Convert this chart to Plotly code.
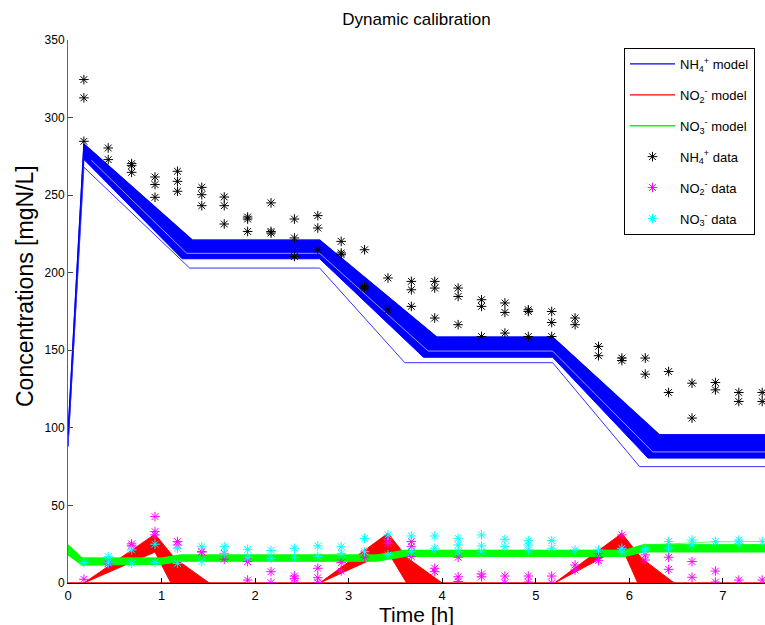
import plotly.graph_objects as go

# ---------------- data ----------------
sample_t = [0.17, 0.43, 0.68, 0.93, 1.17, 1.43, 1.67, 1.92, 2.17, 2.42, 2.67, 2.92,
            3.17, 3.42, 3.67, 3.92, 4.17, 4.42, 4.67, 4.92, 5.17, 5.42, 5.67, 5.92,
            6.17, 6.42, 6.67, 6.92, 7.17, 7.42]

nh4_rep1 = [324.5, 280.4, 270.3, 261.7, 265.4, 255.0, 248.8, 235.9, 245.0, 234.6, 236.8, 220.2,
            214.8, 196.6, 194.4, 194.4, 190.1, 182.6, 180.5, 176.1, 175.0, 170.8, 152.5, 145.0,
            145.0, 136.3, 128.8, 129.2, 122.8, 122.8]
nh4_rep2 = [312.7, 272.9, 269.0, 256.8, 258.9, 250.3, 243.2, 234.6, 226.6, 222.4, 228.8, 212.7,
            191.2, 176.1, 189.0, 190.1, 184.7, 178.3, 174.4, 175.0, 167.9, 166.5, 146.5, 143.4,
            134.6, 122.8, 106.3, 124.5, 117.0, 117.0]
nh4_rep3 = [284.7, None, 264.7, 248.6, 252.5, 243.2, 231.4, 226.6, 225.6, 210.5, 214.8, 211.6,
            190.1, None, 178.3, 170.8, 166.5, 158.9, 161.1, 158.9, 158.9, None, None, None,
            None, None, None, None, None, None]

no2_data = [[2.4], [12.3, 13.0], [25.2, 24.0], [42.8, 33.1, 31.0], [26.7, 24.5], [20.2, 20.0],
            [19.1, 15.3], [13.8, 1.9], [7.3, 0.2], [4.5, 3.0, 0.0], [9.5, 3.4, 0.2], [13.1, 7.7],
            [19.1, 16.6], [28.0, 25.6], [26.7, 23.4, 17.0], [9.5, 7.3], [16.6, 4.0, 1.0], [5.8, 4.0],
            [4.5, 0.2], [4.5, 0.6], [4.5, 0.0], [11.6, 8.4], [19.1, 14.4], [31.0, 22.0],
            [18.1, 14.8], [16.6, 8.8], [13.8, 3.7], [7.7, 0.6], [1.9], [1.9]]

no3_data = [[13.1], [17.0, 13.0], [21.3, 12.7], [25.0, 13.1], [22.4, 12.7], [23.4, 13.8],
            [23.4, 19.0], [21.7, 16.6], [21.0, 15.9], [22.4, 16.6], [23.9, 17.0], [23.4, 19.1],
            [28.8, 20.2], [31.0, 18.1], [30.3, 20.2], [30.3, 22.4], [28.8, 24.5, 20.2],
            [31.0, 23.9, 20.2], [28.2, 23.4], [27.3, 24.5, 21.3], [27.3, 22.4], [21.3], [21.3],
            [22.4, 20.0], [22.4, 21.3], [26.7, 22.4], [27.7, 24.5], [26.7], [27.7, 25.6], [26.7]]

# NH4+ model ensemble envelope
nh4_hi_t = [0.0, 0.17, 1.33, 2.69, 3.94, 5.18, 6.32, 7.45]
nh4_hi_v = [96.0, 283.0, 221.0, 221.0, 158.5, 158.5, 95.5, 95.5]
nh4_lo_t = [0.0, 0.17, 1.22, 2.69, 3.80, 5.18, 6.20, 7.45]
nh4_lo_v = [88.0, 273.0, 209.0, 209.0, 145.5, 145.5, 80.5, 80.5]
nh4_out_t = [0.0, 0.17, 1.30, 2.69, 3.60, 5.18, 6.11, 7.45]
nh4_out_v = [88.0, 268.0, 203.0, 203.0, 142.0, 142.0, 75.0, 75.0]
# lighter streaks visible inside the blue ensemble
nh4_gap_t = [0.25, 1.27, 2.69, 3.85, 5.18, 6.25, 7.45]
nh4_gap_v = [272.5, 212.5, 212.5, 149.5, 149.5, 84.5, 84.5]

# NO2- model ensemble (three nitrite peaks)
no2_start_t = [0.17, 2.69, 5.20]
no2_apex_t = [0.93, 3.42, 5.92]
no2_apex_hi = [31.5, 32.0, 32.0]
no2_apex_lo = [20.0, 20.0, 23.0]
no2_knee_t = [1.14, 3.63, 6.13]
no2_knee_v = [16.0, 16.0, 16.0]
no2_slow_zero_t = [1.51, 4.00, 6.48]
no2_fast_zero_t = [1.10, 3.62, 6.09]

# NO3- model ensemble envelope
no3_t = [0.0, 0.15, 1.0, 1.2, 3.3, 3.6, 5.95, 6.15, 7.45]
no3_hi = [24.5, 16.0, 16.0, 18.0, 18.0, 21.0, 21.0, 24.5, 24.5]
no3_lo = [18.0, 11.5, 12.0, 14.0, 14.0, 17.0, 17.0, 20.0, 20.0]
no3_out_t = [6.15, 6.9, 7.45]
no3_out_v = [24.5, 26.5, 26.8]

x_max = 7.45
BLUE, RED, GREEN = "#0000FF", "#FF0000", "#00FF00"
MAG, CYAN = "#FF00FF", "#00FFFF"
FONT = "Liberation Sans, Arial, sans-serif"

fig = go.Figure()

# ---- NH4 model band ----
fig.add_trace(go.Scatter(x=nh4_hi_t + nh4_lo_t[::-1], y=nh4_hi_v + nh4_lo_v[::-1],
                         fill="toself", fillcolor=BLUE, mode="lines",
                         line=dict(color=BLUE, width=1), showlegend=False, hoverinfo="skip"))
fig.add_trace(go.Scatter(x=nh4_gap_t, y=nh4_gap_v, mode="lines",
                         line=dict(color="rgba(255,255,255,0.6)", width=1), showlegend=False,
                         hoverinfo="skip"))
fig.add_trace(go.Scatter(x=nh4_out_t, y=nh4_out_v, mode="lines",
                         line=dict(color="#3333FF", width=1), showlegend=False, hoverinfo="skip"))
fig.add_trace(go.Scatter(x=nh4_hi_t, y=nh4_hi_v, mode="lines", name="NH<sub>4</sub><sup>+</sup> model",
                         line=dict(color=BLUE, width=1.3), legendrank=1, legendgroup="a"))

# ---- NO2 model ----
for i in range(len(no2_apex_t)):
    px = [no2_start_t[i], no2_apex_t[i], no2_knee_t[i], no2_slow_zero_t[i],
          no2_fast_zero_t[i], no2_apex_t[i], no2_start_t[i]]
    py = [0, no2_apex_hi[i], no2_knee_v[i], 0, 0, no2_apex_lo[i], 0]
    fig.add_trace(go.Scatter(x=px, y=py, fill="toself", fillcolor=RED, mode="lines",
                             line=dict(color=RED, width=1), showlegend=False, hoverinfo="skip"))
fig.add_trace(go.Scatter(x=[0, x_max], y=[0, 0], mode="lines", name="NO<sub>2</sub><sup>-</sup> model",
                         line=dict(color=RED, width=1.3), legendrank=2, legendgroup="b"))

# ---- NO3 model ----
fig.add_trace(go.Scatter(x=no3_t + no3_t[::-1], y=no3_hi + no3_lo[::-1], fill="toself",
                         fillcolor=GREEN, mode="lines", line=dict(color=GREEN, width=1),
                         showlegend=False, hoverinfo="skip"))
fig.add_trace(go.Scatter(x=no3_out_t, y=no3_out_v, mode="lines",
                         line=dict(color="#66FF66", width=1), showlegend=False, hoverinfo="skip"))
fig.add_trace(go.Scatter(x=no3_t, y=no3_hi, mode="lines", name="NO<sub>3</sub><sup>-</sup> model",
                         line=dict(color=GREEN, width=1.3), legendrank=3, legendgroup="c"))

# ---- data ----
def flat(groups):
    xs, ys = [], []
    for t, vals in zip(sample_t, groups):
        for v in vals:
            xs.append(t)
            ys.append(v)
    return xs, ys

nh4_x, nh4_y = [], []
for rep in (nh4_rep1, nh4_rep2, nh4_rep3):
    for t, v in zip(sample_t, rep):
        if v is not None:
            nh4_x.append(t)
            nh4_y.append(v)

def mk(color):
    return dict(symbol="asterisk-open", size=8, color=color, line=dict(color=color, width=1))

fig.add_trace(go.Scatter(x=nh4_x, y=nh4_y, mode="markers", marker=mk("black"),
                         name="NH<sub>4</sub><sup>+</sup> data", legendrank=4, legendgroup="d"))
x2, y2 = flat(no2_data)
fig.add_trace(go.Scatter(x=x2, y=y2, mode="markers", marker=mk(MAG),
                         name="NO<sub>2</sub><sup>-</sup> data", legendrank=5, legendgroup="e"))
x3, y3 = flat(no3_data)
fig.add_trace(go.Scatter(x=x3, y=y3, mode="markers", marker=mk(CYAN),
                         name="NO<sub>3</sub><sup>-</sup> data", legendrank=6, legendgroup="f"))

fig.update_layout(
    width=765, height=625,
    margin=dict(l=68, r=0, t=40, b=42, autoexpand=False),
    paper_bgcolor="white", plot_bgcolor="white",
    font=dict(family=FONT, size=12, color="black"),
    title=dict(text="Dynamic calibration", x=0.5, xanchor="center", xref="paper",
               y=1 - 19 / 625, yanchor="middle", yref="container",
               font=dict(family=FONT, size=17, color="black")),
    showlegend=True,
    legend=dict(x=(755 - 68) / 697, xanchor="right", y=(583 - 48) / 543, yanchor="top",
                bgcolor="white", bordercolor="black", borderwidth=1, itemwidth=45,
                font=dict(family=FONT, size=13, color="black"), tracegroupgap=11,
                traceorder="grouped"),
    xaxis=dict(range=[0, x_max], tickvals=[0, 1, 2, 3, 4, 5, 6, 7], ticks="inside", ticklen=5,
               tickcolor="black", showline=True, linecolor="black", linewidth=1,
               showgrid=False, zeroline=False, tickfont=dict(size=13)),
    yaxis=dict(range=[0, 350], tickvals=list(range(0, 351, 50)), ticks="inside", ticklen=5,
               tickcolor="#444", showline=True, linecolor="#666", linewidth=1,
               showgrid=False, zeroline=False, tickfont=dict(size=12)),
    annotations=[
        dict(text="Concentrations [mgN/L]", textangle=-90, x=(25 - 68) / 697, y=(583 - 286) / 543,
             xref="paper", yref="paper", xanchor="center", yanchor="middle",
             showarrow=False, font=dict(family=FONT, size=23)),
        dict(text="Time [h]", x=0.5, y=-(614 - 583) / 543, xref="paper", yref="paper",
             xanchor="center", yanchor="middle",
             showarrow=False, font=dict(family=FONT, size=21)),
    ],
)

fig.write_html("out.html", config={"displayModeBar": False},
               post_script="document.body.style.margin='0';document.body.style.overflow='hidden';")
